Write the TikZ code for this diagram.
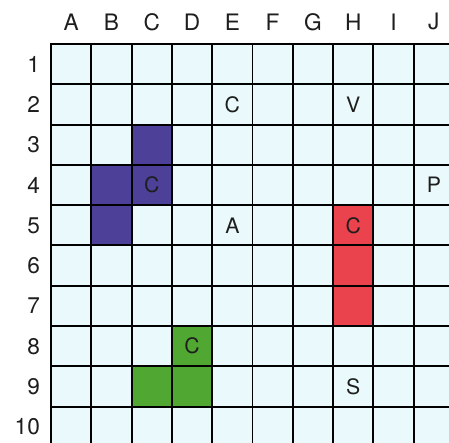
\documentclass[tikz,border=0pt]{standalone}
\usepackage{fontspec}
\setmainfont{TeX Gyre Heros}
\definecolor{gridCyan}{RGB}{234,249,251}
\definecolor{shipPurple}{RGB}{76,64,152}
\definecolor{shipRed}{RGB}{234,67,77}
\definecolor{shipGreen}{RGB}{80,168,50}
\definecolor{inkDark}{RGB}{30,30,30}
\tikzset{
  headlabel/.style={text=inkDark,font=\fontsize{16}{18}\selectfont,inner sep=0pt},
  celllabel/.style={text=inkDark,font=\fontsize{15}{17}\selectfont,inner sep=0pt}
}

\begin{document}
\begin{tikzpicture}[y=-1cm]
\useasboundingbox (-1.266,-1.092) rectangle (9.876,9.90);
\clip (-1.266,-1.092) rectangle (9.876,9.90);
\fill[gridCyan] (0,0) rectangle (10,10);
% ships
\foreach \c/\r/\col in {3/3/shipPurple,2/4/shipPurple,3/4/shipPurple,2/5/shipPurple,
  8/5/shipRed,8/6/shipRed,8/7/shipRed,
  4/8/shipGreen,3/9/shipGreen,4/9/shipGreen}
  \fill[\col] (\c-1,\r-1) rectangle (\c,\r);
\draw[line width=1.4pt,line cap=rect] (0,0) grid (10,10);
% headers
\foreach \l [count=\i] in {A,B,C,D,E,F,G,H,I,J}
  \node[headlabel] (col\l) at (\i-0.5,-0.55) {\l};
\foreach \r in {1,...,10}
  \node[headlabel,anchor=east] (row\r) at (-0.27,\r-0.5) {\r};
% marks
\node[celllabel] (markC4) at (2.5,3.5) {C};
\node[celllabel] (markH5) at (7.5,4.5) {C};
\node[celllabel] (markD8) at (3.5,7.5) {C};
\node[celllabel] (markE2) at (4.5,1.5) {C};
\node[celllabel] (markH2) at (7.5,1.5) {V};
\node[celllabel] (markJ4) at (9.5,3.5) {P};
\node[celllabel] (markE5) at (4.5,4.5) {A};
\node[celllabel] (markH9) at (7.5,8.5) {S};
\end{tikzpicture}
\end{document}
